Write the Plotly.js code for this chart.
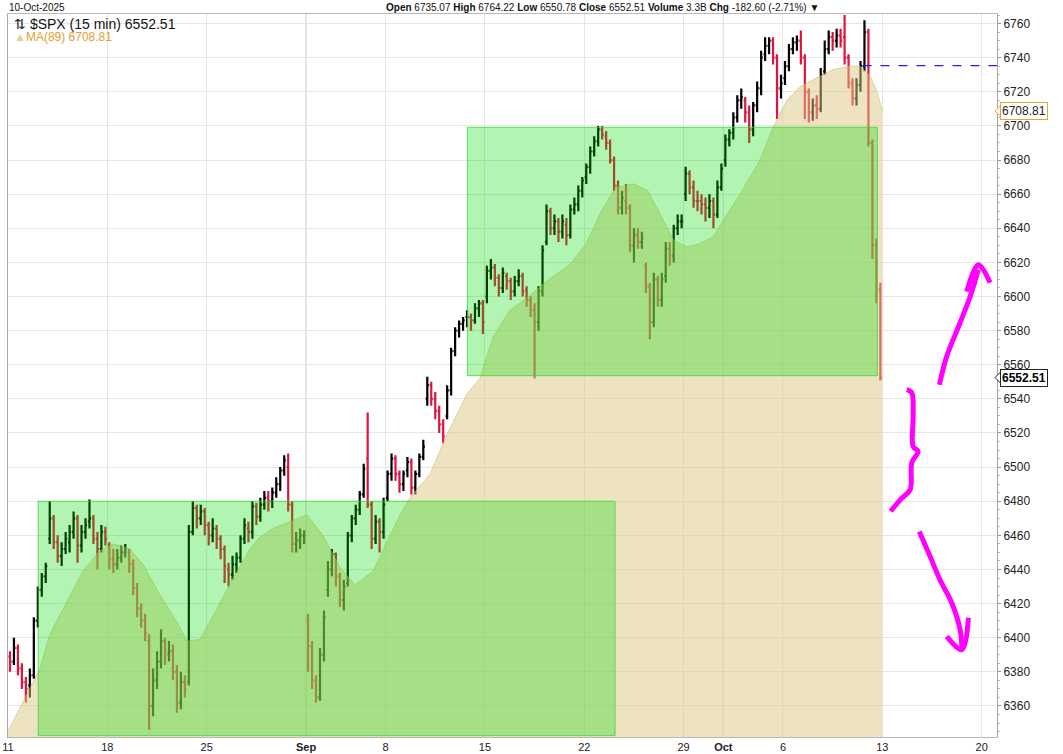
<!DOCTYPE html>
<html><head><meta charset="utf-8">
<script src="https://cdn.plot.ly/plotly-3.0.1.min.js"></script>
<style>html,body{margin:0;padding:0;background:#fff;overflow:hidden;} #chart{width:1063px;height:754px;}</style>
</head><body><div id="chart"></div>
<script>
// ---------- DATA ----------
const tradingDays = [
 '2025-08-11','2025-08-12','2025-08-13','2025-08-14','2025-08-15',
 '2025-08-18','2025-08-19','2025-08-20','2025-08-21','2025-08-22',
 '2025-08-25','2025-08-26','2025-08-27','2025-08-28','2025-08-29',
 '2025-09-02','2025-09-03','2025-09-04','2025-09-05',
 '2025-09-08','2025-09-09','2025-09-10','2025-09-11','2025-09-12',
 '2025-09-15','2025-09-16','2025-09-17','2025-09-18','2025-09-19',
 '2025-09-22','2025-09-23','2025-09-24','2025-09-25','2025-09-26',
 '2025-09-29','2025-09-30','2025-10-01','2025-10-02','2025-10-03',
 '2025-10-06','2025-10-07','2025-10-08','2025-10-09','2025-10-10'];
const holidays = ['2025-09-01'];
const barsPerDay = 5;

const barOpen = [
 6389,6386,6394,6382,6374, 6372,6378,6410,6428,6436, 6458,6470,6456,6448,6452, 6456,6462,6470,6454,6462, 6468,6470,6458,6452,6462,
 6454,6446,6443,6447,6450, 6450,6443,6429,6417,6410, 6398,6360,6375,6386,6398, 6390,6392,6380,6362,6374, 6374,6462,6476,6470,6474,
 6466,6460,6464,6458,6452, 6440,6437,6443,6447,6458, 6464,6462,6477,6471,6478, 6482,6480,6485,6490,6498, 6500,6478,6455,6457,6460,
 6410,6395,6375,6365,6390, 6428,6440,6449,6436,6422, 6432,6460,6470,6475,6484, 6505,6478,6458,6468,6462,
 6482,6496,6505,6496,6490, 6498,6503,6488,6496,6506, 6540,6548,6540,6533,6525, 6530,6545,6568,6580,6584, 6588,6588,6586,6593,6596,
 6600,6615,6617,6611,6605, 6612,6609,6603,6609,6612, 6604,6598,6592,6585,6603, 6632,6650,6640,6644,6638, 6642,6636,6651,6654,6662,
 6670,6676,6685,6691,6698, 6694,6690,6680,6665,6652, 6656,6652,6630,6636,6632, 6618,6606,6585,6610,6598, 6612,6628,6624,6640,6644,
 6660,6672,6664,6656,6656, 6654,6652,6656,6648,6664, 6680,6692,6696,6705,6715, 6715,6708,6698,6712,6722, 6742,6747,6750,6740,6722,
 6728,6735,6745,6749,6750, 6740,6720,6708,6712,6710, 6732,6745,6752,6750,6753, 6752,6740,6725,6716,6724, 6735,6755,6690,6630,6604];
const barHigh = [
 6392,6400,6396,6385,6377, 6382,6412,6430,6438,6444, 6480,6472,6460,6456,6462, 6466,6474,6472,6466,6470, 6481,6472,6462,6466,6465,
 6456,6452,6452,6454,6455, 6452,6446,6432,6420,6414, 6402,6382,6392,6405,6400, 6398,6396,6384,6380,6378, 6466,6480,6478,6478,6476,
 6468,6470,6466,6460,6454, 6444,6448,6450,6460,6470, 6468,6480,6479,6482,6486, 6486,6488,6494,6500,6507, 6508,6480,6462,6464,6463,
 6414,6398,6378,6394,6416, 6445,6452,6450,6438,6434, 6462,6472,6478,6486,6502, 6532,6480,6472,6470,6482,
 6498,6508,6507,6498,6498, 6506,6505,6498,6508,6516, 6553,6550,6544,6536,6528, 6548,6570,6582,6586,6588, 6592,6590,6596,6598,6598,
 6618,6622,6619,6613,6617, 6614,6611,6612,6616,6614, 6606,6600,6596,6606,6630, 6654,6652,6648,6646,6648, 6646,6654,6658,6665,6670,
 6678,6688,6694,6700,6700, 6697,6692,6682,6668,6662, 6666,6654,6640,6640,6638, 6620,6608,6614,6612,6614, 6632,6632,6642,6648,6648,
 6676,6674,6668,6662,6660, 6658,6660,6658,6668,6678, 6695,6698,6708,6718,6722, 6717,6712,6714,6726,6744, 6752,6752,6752,6742,6730,
 6738,6748,6752,6753,6756, 6742,6722,6716,6718,6734, 6750,6756,6755,6757,6757, 6765,6742,6728,6728,6738, 6762,6757,6692,6634,6608];
const barLow = [
 6380,6384,6378,6370,6362, 6365,6376,6406,6424,6432, 6455,6452,6444,6442,6449, 6450,6458,6444,6450,6458, 6464,6455,6440,6450,6454,
 6440,6438,6440,6444,6447, 6438,6425,6412,6406,6398, 6346,6354,6370,6382,6384, 6386,6375,6356,6358,6365, 6372,6460,6464,6466,6460,
 6454,6456,6452,6446,6432, 6430,6434,6438,6444,6455, 6456,6458,6466,6468,6475, 6474,6476,6482,6486,6495, 6474,6450,6450,6452,6455,
 6380,6370,6362,6363,6386, 6424,6436,6430,6418,6416, 6430,6456,6466,6472,6482, 6476,6452,6455,6450,6458,
 6480,6492,6492,6485,6486, 6494,6484,6484,6494,6504, 6536,6536,6528,6520,6514, 6528,6542,6565,6576,6580, 6582,6580,6584,6588,6578,
 6596,6610,6606,6600,6602, 6604,6598,6600,6606,6600, 6594,6588,6552,6580,6600, 6630,6636,6636,6632,6634, 6630,6634,6648,6650,6658,
 6666,6672,6682,6688,6692, 6686,6678,6662,6648,6648, 6648,6626,6620,6628,6628, 6602,6575,6582,6594,6594, 6608,6618,6620,6636,6640,
 6656,6660,6652,6650,6648, 6644,6646,6640,6646,6662, 6676,6688,6692,6702,6710, 6702,6690,6694,6708,6718, 6738,6742,6736,6704,6716,
 6724,6732,6742,6744,6736, 6704,6702,6703,6704,6708, 6730,6742,6744,6746,6746, 6736,6722,6712,6712,6720, 6732,6688,6622,6596,6550.78];
const barClose = [
 6386,6394,6382,6374,6370, 6378,6410,6428,6436,6442, 6470,6456,6448,6452,6458, 6462,6470,6454,6462,6466, 6470,6458,6452,6462,6458,
 6446,6443,6447,6450,6452, 6443,6429,6417,6410,6403, 6360,6375,6386,6398,6392, 6392,6380,6362,6374,6370, 6462,6476,6470,6474,6466,
 6460,6464,6458,6452,6442, 6437,6443,6447,6458,6466, 6462,6477,6471,6478,6482, 6480,6485,6490,6498,6504, 6478,6455,6457,6460,6460,
 6395,6375,6365,6390,6412, 6440,6449,6436,6422,6430, 6460,6470,6475,6484,6499, 6478,6458,6468,6462,6478,
 6496,6505,6496,6490,6496, 6503,6488,6496,6506,6512, 6548,6540,6533,6525,6518, 6545,6568,6580,6584,6586, 6588,6586,6593,6596,6585,
 6615,6617,6611,6605,6614, 6609,6603,6609,6612,6603, 6598,6592,6585,6603,6627, 6650,6640,6644,6638,6644, 6636,6651,6654,6662,6668,
 6676,6685,6691,6698,6695, 6690,6680,6665,6652,6658, 6652,6630,6636,6632,6634, 6606,6585,6610,6598,6610, 6628,6624,6640,6644,6644,
 6672,6664,6656,6656,6654, 6652,6656,6648,6664,6675, 6692,6696,6705,6715,6717, 6708,6698,6712,6722,6740, 6747,6750,6740,6722,6725,
 6735,6745,6749,6750,6740, 6720,6708,6712,6710,6730, 6745,6752,6750,6753,6750, 6740,6725,6716,6724,6735, 6755,6690,6630,6604,6552.51];

// MA(89): position in trading days since Aug 11, value
const maDay = [0,1.11,1.61,2.11,2.97,3.77,4.63,5.28,6.14,6.79,7.65,8.51,9.01,9.66,10.52,11.32,12.18,12.68,13.34,14.19,15.05,15.85,16.71,17.46,18.37,19.07,19.73,20.23,21.24,22.09,23.10,23.75,24.4,25.26,26.1,27.1,28.3,29.1,29.9,30.6,31.5,32.2,32.8,33.5,34.2,34.8,35.5,35.8,36.84,37.85,38.5,39.2,39.86,40.7,41.5,42.4,42.9,43.4,43.7,44.0];
const maValue = [6345,6370,6382,6402,6421,6439,6451,6455,6452,6443,6425,6409,6398,6399,6417,6435,6452,6459,6464,6468,6472,6460,6441,6431,6439,6456,6472,6482,6496,6519,6543,6552,6576,6592,6599,6609,6619,6631,6651,6664,6666,6662,6649,6633,6629,6631,6635,6641,6660,6680,6699,6715,6723,6728,6733,6735,6735,6729,6721,6708.81];

const tickDates = ['2025-08-11','2025-08-18','2025-08-25','2025-09-02','2025-09-08','2025-09-15','2025-09-22','2025-09-29','2025-10-01','2025-10-06','2025-10-13','2025-10-20'];
const tickText  = ['11','18','25','<b>Sep</b>','8','15','22','29','<b>Oct</b>','6','13','20'];
const monthStarts = ['2025-09-02','2025-10-01'];
const priceTicks = [6360,6380,6400,6420,6440,6460,6480,6500,6520,6540,6560,6580,6600,6620,6640,6660,6680,6700,6720,6740,6760];

// green zones (trading-day start/end, price low/high)
const zoneStart = [1.52, 23.12];
const zoneEnd   = [30.55, 43.75];
const zoneLow   = [6342.6, 6553.6];
const zoneHigh  = [6480, 6699.2];

const levelStartDay = 43.0;
const levelPrice = 6735.3;
const lastClose = 6552.51;
const lastMA = 6708.81;

// hand-drawn magenta marks (trading day, price)
const upStrokeDay = [46.87,47.24,47.91,48.42,48.83];
const upStrokePrice = [6548.3,6564.9,6584.6,6600.0,6615.7];
const upHeadDay = [48.25,48.83,49.42];
const upHeadPrice = [6602.9,6618.6,6608.1];
const braceDay = [45.23,45.48,45.55,45.55,45.80,45.48,45.40,44.92,44.42];
const bracePrice = [6545.4,6543.6,6529.7,6512.1,6509.2,6502.6,6486.8,6481.1,6474.1];
const downStrokeDay = [45.86,46.40,46.90,47.49,47.91,48.00];
const downStrokePrice = [6462.3,6447.7,6434.0,6420.5,6404.9,6394.4];
const downHeadDay = [47.24,48.00,48.33];
const downHeadPrice = [6400.8,6393.0,6411.7];

// ---------- SCALE HELPERS ----------
function tradingIndex(dateStr){
  const start = new Date('2025-08-11T00:00:00Z');
  const d = new Date(dateStr + 'T00:00:00Z');
  let n = 0;
  for (let t = new Date(start); t < d; t.setUTCDate(t.getUTCDate()+1)) {
    const wd = t.getUTCDay(); const iso = t.toISOString().slice(0,10);
    if (wd !== 0 && wd !== 6 && !holidays.includes(iso)) n++;
  }
  return n;
}
const barX = barClose.map((_, i) => tradingIndex(tradingDays[Math.floor(i/barsPerDay)]) + ((i % barsPerDay) + 0.5)/barsPerDay);
const xMax = 49.77;
const FONT = 'Liberation Sans, Arial, sans-serif';

const magenta = {color:'#ff00ff', width:5, shape:'spline'};
function stroke(x, y){ return {type:'scatter', mode:'lines', x:x, y:y, line:magenta, hoverinfo:'skip', showlegend:false}; }

const traces = [
  {type:'scatter', mode:'lines', x:maDay, y:maValue, fill:'tozeroy',
   fillcolor:'rgba(219,199,131,0.5)', line:{color:'rgba(205,180,105,0.55)', width:1},
   hoverinfo:'skip', showlegend:false},
  {type:'ohlc', x:barX, open:barOpen, high:barHigh, low:barLow, close:barClose,
   increasing:{line:{color:'#000000', width:2.2}}, decreasing:{line:{color:'#e0143c', width:2.2}},
   tickwidth:0.4, hoverinfo:'skip', showlegend:false},
  stroke(upStrokeDay, upStrokePrice),
  stroke(upHeadDay, upHeadPrice),
  stroke(braceDay, bracePrice),
  stroke(downStrokeDay, downStrokePrice),
  stroke(downHeadDay, downHeadPrice)
];

const shapes = [];
monthStarts.forEach(d => {
  const xi = tradingIndex(d);
  shapes.push({type:'line', xref:'x', yref:'paper', x0:xi, x1:xi, y0:0, y1:1, layer:'below', line:{color:'#c4c4c4', width:1}});
});
for (let i = 0; i < zoneStart.length; i++) {
  shapes.push({type:'rect', xref:'x', yref:'y', x0:zoneStart[i], x1:zoneEnd[i], y0:zoneLow[i], y1:zoneHigh[i],
    layer:'above', fillcolor:'rgba(0,220,0,0.30)', line:{color:'rgba(60,215,60,0.8)', width:1}});
}
shapes.push({type:'line', xref:'x', yref:'y', x0:levelStartDay, x1:xMax, y0:levelPrice, y1:levelPrice,
  layer:'above', line:{color:'#2020ff', width:1.2, dash:'dash'}});
// pointers of the right-axis price tags
[[lastClose,'#222'],[lastMA,'#e3a53a']].forEach(p => {
  shapes.push({type:'path', xref:'paper', yref:'y', xsizemode:'pixel', ysizemode:'pixel', xanchor:1, yanchor:p[0],
    path:'M -2,0 L 4,6 L 4,-6 Z', fillcolor:'#ffffff', line:{color:p[1], width:1}, layer:'above'});
});

const annotations = [
  {xref:'paper', yref:'paper', x:0.004, y:0.986, xanchor:'left', yanchor:'middle', showarrow:false,
   text:'⇅ $SPX (15 min) 6552.51', font:{family:FONT, size:14, color:'#111'}},
  {xref:'paper', yref:'paper', x:0.004, y:0.968, xanchor:'left', yanchor:'middle', showarrow:false,
   text:'<span style="color:#e6cf91">▲</span>MA(89) 6708.81', font:{family:FONT, size:12, color:'#e0a030'}},
  {xref:'paper', yref:'y', x:1, xshift:3, y:lastClose, xanchor:'left', yanchor:'middle', showarrow:false,
   text:'<b>6552.51</b>', bgcolor:'#ffffff', bordercolor:'#222', borderwidth:1, borderpad:1,
   font:{family:FONT, size:12, color:'#000'}},
  {xref:'paper', yref:'y', x:1, xshift:3, y:lastMA, xanchor:'left', yanchor:'middle', showarrow:false,
   text:'6708.81', bgcolor:'#ffffff', bordercolor:'#e3a53a', borderwidth:1, borderpad:1,
   font:{family:FONT, size:12, color:'#222'}},
  {xref:'paper', yref:'paper', x:0.381, y:1, yshift:0, xanchor:'left', yanchor:'bottom', showarrow:false, borderpad:0,
   text:'<b>Open</b> 6735.07 <b>High</b> 6764.22 <b>Low</b> 6550.78 <b>Close</b> 6552.51 <b>Volume</b> 3.3B <b>Chg</b> -182.60 (-2.71%) ▼',
   font:{family:FONT, size:10, color:'#111'}},
  {xref:'paper', yref:'paper', x:0.0, y:1, yshift:0, xanchor:'left', yanchor:'bottom', showarrow:false, borderpad:0,
   text:'10-Oct-2025', font:{family:FONT, size:10, color:'#111'}}
];

const layout = {
  width:1063, height:754,
  margin:{l:8, r:66, t:14, b:17, pad:0},
  paper_bgcolor:'#ffffff', plot_bgcolor:'#ffffff',
  font:{family:FONT, size:12, color:'#222'},
  showlegend:false, hovermode:false, dragmode:false,
  xaxis:{type:'linear', range:[0, xMax], tickvals:tickDates.map(tradingIndex), ticktext:tickText,
    showgrid:true, gridcolor:'#e6e6e6', gridwidth:1, zeroline:false, showline:true, linecolor:'#b8b8b8', mirror:true,
    ticks:'', tickfont:{family:FONT, size:11, color:'#222'}, rangeslider:{visible:false}, fixedrange:true},
  yaxis:{side:'right', range:[6341.8, 6765.6], tickmode:'array', tickvals:priceTicks, showgrid:true, gridcolor:'#e6e6e6', zeroline:false,
    showline:true, linecolor:'#a8a8a8', mirror:true, ticks:'outside', ticklen:3, tickcolor:'#999',
    minor:{dtick:5, ticks:'outside', ticklen:2, tickcolor:'#bbb', showgrid:false},
    tickfont:{family:FONT, size:12, color:'#222'}, fixedrange:true},
  shapes:shapes, annotations:annotations
};

Plotly.newPlot('chart', traces, layout, {staticPlot:true, displayModeBar:false});
</script></body></html>
